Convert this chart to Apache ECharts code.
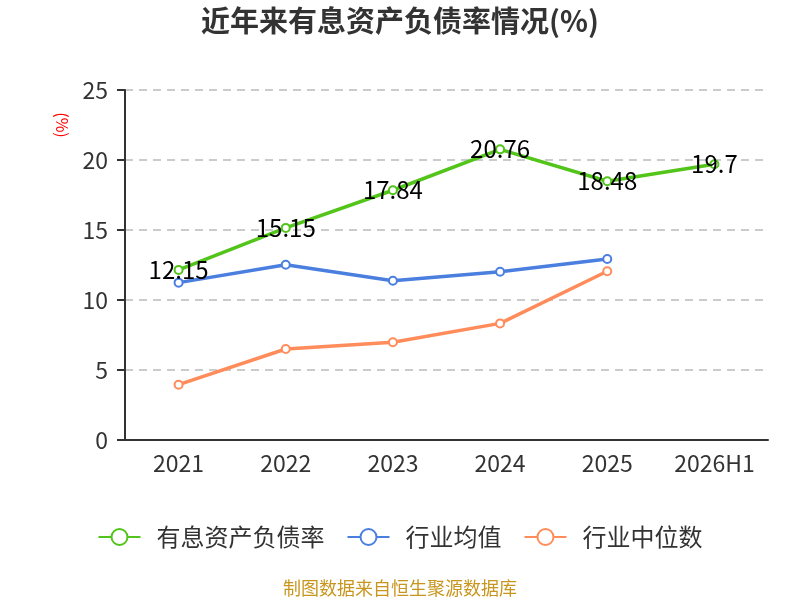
<!DOCTYPE html>
<html lang="zh">
<head>
  <meta charset="utf-8">
  <title>近年来有息资产负债率情况(%)</title>
  <script src="https://cdn.jsdelivr.net/npm/echarts@6/dist/echarts.min.js"></script>
  <style>
    html, body { margin: 0; padding: 0; background: #fff; }
    #chart { width: 800px; height: 600px; }
  </style>
</head>
<body>
  <div id="chart"></div>
  <script>
    var years = ['2021', '2022', '2023', '2024', '2025', '2026H1'];
    var ratio = [12.15, 15.15, 17.84, 20.76, 18.48, 19.7];
    var industryAvg = [11.24, 12.52, 11.38, 12.02, 12.93, '-'];
    var industryMedian = [3.95, 6.5, 6.98, 8.33, 12.05, '-'];

    var font = '"Noto Sans CJK SC", "Noto Sans", sans-serif';
    var chart = echarts.init(document.getElementById('chart'));

    var option = {
      textStyle: { fontFamily: font },
      title: {
        text: '近年来有息资产负债率情况(%)',
        left: 'center',
        top: 1,
        textStyle: { fontSize: 29, fontWeight: 'bold', color: '#333', fontFamily: font }
      },
      graphic: [
        {
          type: 'text',
          left: 'center',
          top: 579,
          style: { text: '制图数据来自恒生聚源数据库', fill: '#c8961e', fontSize: 18, fontFamily: font }
        },
        {
          type: 'text',
          x: 62,
          y: 125,
          rotation: -Math.PI / 2,
          style: { text: '(%)', fill: '#ff0000', fontSize: 16, fontFamily: font, align: 'center', verticalAlign: 'middle' }
        }
      ],
      legend: {
        top: 520,
        left: 'center',
        itemWidth: 42,
        itemHeight: 20,
        itemGap: 22,
        textStyle: { fontSize: 24, color: '#333', fontFamily: font, padding: [0, 0, 0, 11] },
        data: ['有息资产负债率', '行业均值', '行业中位数']
      },
      grid: { left: 125, right: 32, top: 90, bottom: 160 },
      xAxis: {
        type: 'category',
        data: years,
        boundaryGap: true,
        axisLine: { lineStyle: { color: '#333', width: 2 } },
        axisTick: { length: 8, lineStyle: { color: '#333', width: 2 } },
        axisLabel: { fontSize: 23, color: '#333', margin: 12 }
      },
      yAxis: {
        type: 'value',
        min: 0,
        max: 25,
        interval: 5,
        axisLine: { show: true, lineStyle: { color: '#333', width: 2 } },
        axisTick: { show: true, length: 8, lineStyle: { color: '#333', width: 2 } },
        axisLabel: { fontSize: 23, color: '#333', margin: 17 },
        splitLine: { lineStyle: { type: [8, 6], color: '#bbb', width: 1.5 } }
      },
      series: [
        {
          name: '有息资产负债率',
          type: 'line',
          data: ratio,
          symbol: 'emptyCircle',
          symbolSize: 8,
          itemStyle: { color: '#52c41a', borderWidth: 2 },
          lineStyle: { width: 3.5 },
          label: { show: true, position: 'inside', fontSize: 24, color: '#000', fontFamily: font },
          z: 3
        },
        {
          name: '行业均值',
          type: 'line',
          data: industryAvg,
          symbol: 'emptyCircle',
          symbolSize: 8,
          itemStyle: { color: '#4a7fe0', borderWidth: 2 },
          lineStyle: { width: 3.5 },
          z: 2
        },
        {
          name: '行业中位数',
          type: 'line',
          data: industryMedian,
          symbol: 'emptyCircle',
          symbolSize: 8,
          itemStyle: { color: '#ff8c5a', borderWidth: 2 },
          lineStyle: { width: 3.5 },
          z: 2
        }
      ]
    };
    chart.setOption(option);
  </script>
</body>
</html>
